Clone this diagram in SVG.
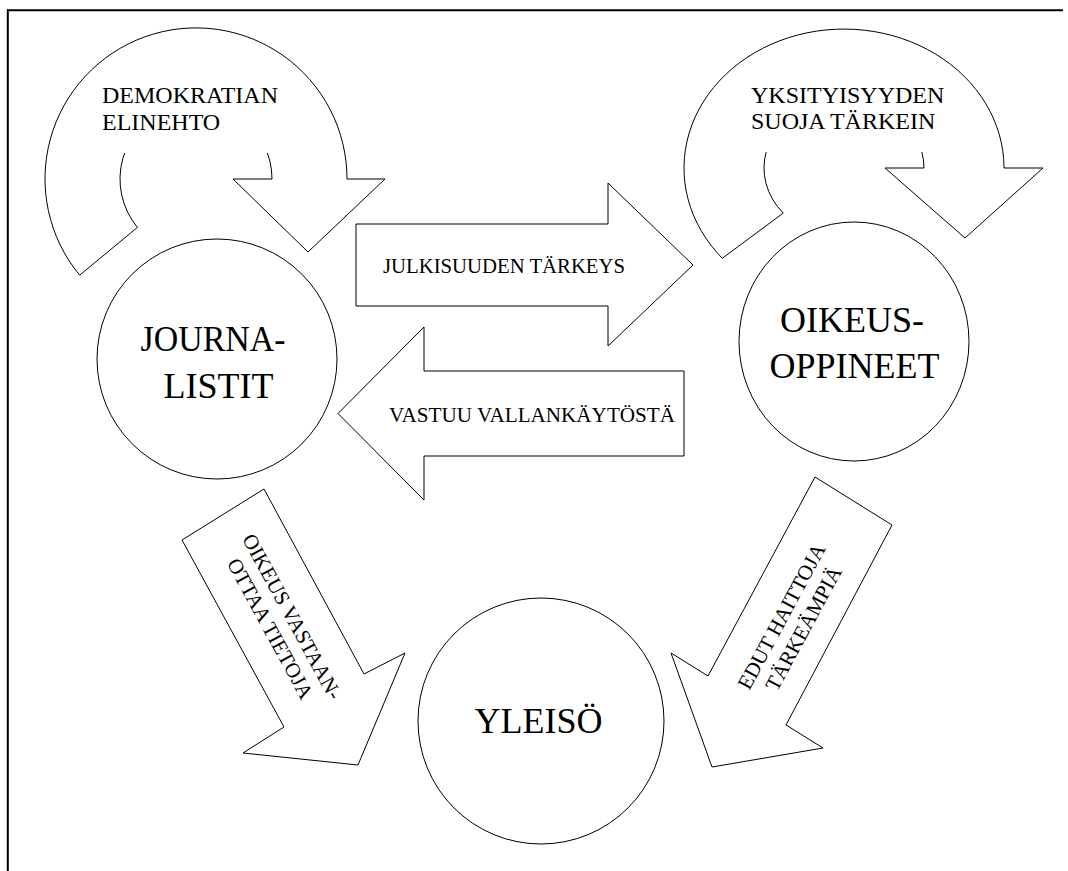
<svg xmlns="http://www.w3.org/2000/svg" width="1068" height="871" viewBox="0 0 1068 871">
<style>
.shape{fill:#fff;stroke:#000;stroke-width:1}
.frame{fill:none;stroke:#000;stroke-width:2}
.mask{fill:#fff;stroke:none}
text{font-family:"Liberation Serif","Times New Roman",serif;fill:#000}
.big{font-size:36px;text-anchor:middle}
.loop{font-size:24px}
.lbl{font-size:21px}
.mid{text-anchor:middle}
</style>
<rect width="1068" height="871" fill="#fff"/>
<g id="frame">
<line class="frame" x1="7" y1="10.3" x2="1063" y2="10.3"/>
<line class="frame" x1="7.8" y1="9.3" x2="7.8" y2="871"/>
</g>
<g id="connectors">
<g id="loop-journalistit">
<path class="shape" d="M79.7,275.2 A151,151 0 1 1 347,179 L385,179 L308,252 L233,179 L272,179 A76,76 0 1 0 137.4,227.4 Z"/>
<rect class="mask" x="96" y="76" width="192" height="77"/>
<text class="loop" x="102" y="103">DEMOKRATIAN</text>
<text class="loop" x="102" y="130">ELINEHTO</text>
</g>
<g id="loop-oikeusoppineet">
<path class="shape" d="M722.3,258.3 A160,139 0 1 1 1004,168 L1043,168 L965,238 L885,168 L924,168 A80,69.5 0 1 0 783.2,213.1 Z"/>
<rect class="mask" x="745" y="76" width="190" height="76"/>
<text class="loop" x="751" y="103">YKSITYISYYDEN</text>
<text class="loop" x="751" y="129">SUOJA TÄRKEIN</text>
</g>
<g id="arrow-julkisuus">
<polygon class="shape" points="356,224 608,224 608,183 693,265 608,346 608,306 356,306"/>
<text class="lbl" x="383" y="273" textLength="242" lengthAdjust="spacingAndGlyphs">JULKISUUDEN TÄRKEYS</text>
</g>
<g id="arrow-vastuu">
<polygon class="shape" points="684,371 424,371 424,327 338,413.5 424,500 424,456 684,456"/>
<text class="lbl" x="389" y="422" textLength="286" lengthAdjust="spacingAndGlyphs">VASTUU VALLANKÄYTÖSTÄ</text>
</g>
<g id="arrow-oikeus-tietoja">
<polygon class="shape" points="182,540 264,489 364,674 405,653 358,765 243,753 284,727"/>
<g transform="translate(286,620) rotate(61.4)">
<text class="lbl mid" x="0" y="0">OIKEUS VASTAAN-</text>
<text class="lbl mid" x="0" y="25">OTTAA TIETOJA</text>
</g>
</g>
<g id="arrow-edut">
<polygon class="shape" points="815,477 892,525 786,725 823,748 712,767 671,653 708,676"/>
<g transform="translate(787.7,619.8) rotate(-61.7)">
<text class="lbl mid" x="0" y="0">EDUT HAITTOJA</text>
<text class="lbl mid" x="0" y="25">TÄRKEÄMPIÄ</text>
</g>
</g>
</g>
<g id="journalistit">
<circle class="shape" cx="217" cy="359" r="120"/>
<text class="big" x="213" y="351" textLength="145" lengthAdjust="spacingAndGlyphs">JOURNA-</text>
<text class="big" x="218.5" y="398">LISTIT</text>
</g>
<g id="oikeusoppineet">
<ellipse class="shape" cx="854" cy="341.5" rx="115" ry="119.5"/>
<text class="big" x="852" y="332">OIKEUS-</text>
<text class="big" x="854.5" y="378">OPPINEET</text>
</g>
<g id="yleiso">
<circle class="shape" cx="541" cy="721" r="123"/>
<text class="big" x="538.5" y="733">YLEISÖ</text>
</g>
</svg>
